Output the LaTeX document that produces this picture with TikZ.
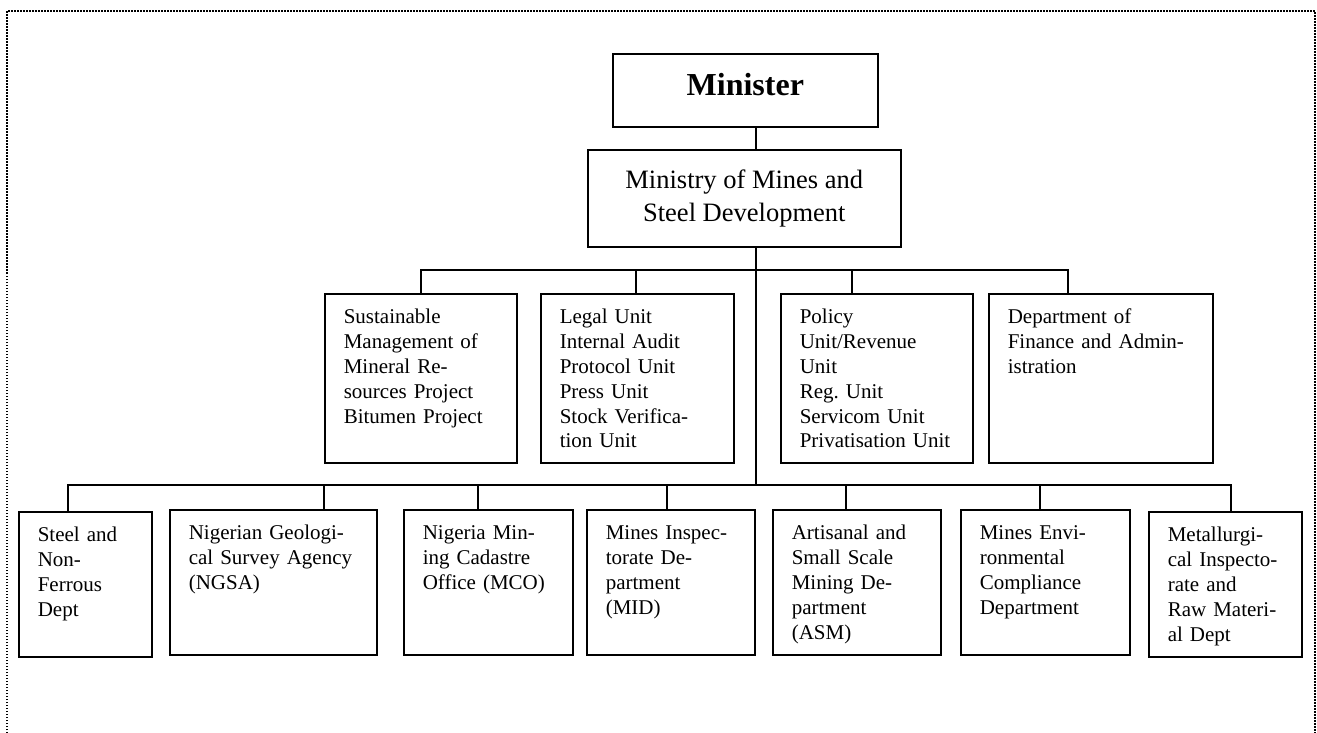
\documentclass[tikz,border=0pt]{standalone}
\usepackage{fontspec}
\setmainfont{Liberation Serif}
\frenchspacing
\tikzset{
  unitbox/.style={draw, line width=1.6pt, anchor=north west, align=left,
    inner xsep=19pt, inner ysep=13pt, text height=17pt,
    font=\fontsize{21}{24.8}\selectfont},
  headbox/.style={draw, line width=1.6pt, anchor=north west},
  link/.style={line width=1.4pt},
}
\begin{document}
\begin{tikzpicture}[x=1pt, y=-1pt]
    \useasboundingbox (0,0) rectangle (1317,733);

    % Dotted page frame, open at the bottom
    \draw[line width=1.6pt, dash pattern=on 1.5pt off 1.5pt] (7,733) -- (7,11) -- (1315,11) -- (1315,733);

    % Head of the chart
    \node[headbox, minimum width=265pt, minimum height=73pt, text depth=12pt,
          font=\fontsize{32}{36}\selectfont\bfseries] (minister) at (612,53) {Minister};
    \node[headbox, minimum width=313pt, minimum height=97pt, align=center,
          font=\fontsize{26.5}{32.5}\selectfont] (ministry) at (587,149) {Ministry of Mines and\\Steel Development};

    % First row of units
    \node[unitbox, text width=154pt, text depth=126pt] (sustain) at (324,293) {Sustainable\\Management of\\Mineral Re-\\sources Project\\Bitumen Project};
    \node[unitbox, text width=155pt, text depth=126pt] (legal) at (540,293) {Legal Unit\\Internal Audit\\Protocol Unit\\Press Unit\\Stock Verifica-\\tion Unit};
    \node[unitbox, text width=154pt, text depth=126pt] (policy) at (780,293) {Policy\\Unit/Revenue\\Unit\\Reg. Unit\\Servicom Unit\\Privatisation Unit};
    \node[unitbox, text width=186pt, text depth=126pt] (finance) at (988,293) {Department of\\Finance and Admin-\\istration};

    % Second row of departments
    \node[unitbox, text width=95pt, text depth=102pt] (steel) at (18,511) {Steel and\\Non-\\Ferrous\\Dept};
    \node[unitbox, text width=169pt, text depth=102pt] (ngsa) at (169,509) {Nigerian Geologi-\\cal Survey Agency\\(NGSA)};
    \node[unitbox, text width=131pt, text depth=102pt] (mco) at (403,509) {Nigeria Min-\\ing Cadastre\\Office (MCO)};
    \node[unitbox, text width=130pt, text depth=102pt] (mid) at (586,509) {Mines Inspec-\\torate De-\\partment\\(MID)};
    \node[unitbox, text width=130pt, text depth=102pt] (asm) at (772,509) {Artisanal and\\Small Scale\\Mining De-\\partment\\(ASM)};
    \node[unitbox, text width=131pt, text depth=102pt] (mec) at (960,509) {Mines Envi-\\ronmental\\Compliance\\Department};
    \node[unitbox, text width=115pt, text depth=102pt] (metal) at (1148,511) {Metallurgi-\\cal Inspecto-\\rate and\\Raw Materi-\\al Dept};

    % Spine and bus points
    \coordinate (bar1) at (756,270);
    \coordinate (bar2) at (756,485);
    \coordinate (p2) at (636,270);
    \coordinate (p3) at (852,270);
    \coordinate (p4) at (1068,270);
    \draw[link] (minister.south -| bar1) -- (ministry.north -| bar1);
    \draw[link] (ministry.south -| bar1) -- (bar2);

    % First row links
    \draw[link] (sustain.north) -- (sustain.north |- bar1) -- (p4) -- (p4 |- finance.north);
    \draw[link] (p2) -- (p2 |- legal.north);
    \draw[link] (p3) -- (p3 |- policy.north);

    % Second row links
    \foreach \x/\n in {68/steel, 324/ngsa, 478/mco, 667/mid, 846/asm, 1040/mec, 1231/metal}
        \coordinate (d\n) at (\x,485);
    \draw[link] (dsteel |- steel.north) -- (dsteel) -- (dmetal) -- (dmetal |- metal.north);
    \foreach \n in {ngsa, mco, mid, asm, mec}
        \draw[link] (d\n) -- (d\n |- \n.north);
\end{tikzpicture}
\end{document}
